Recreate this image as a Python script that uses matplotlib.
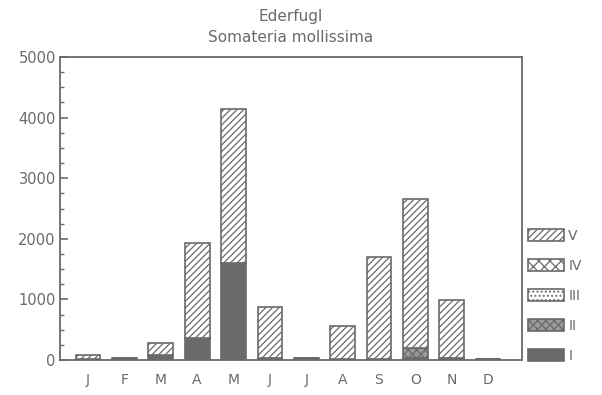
import matplotlib.pyplot as plt
import numpy as np
from matplotlib.patches import Patch
from matplotlib.ticker import MultipleLocator

plt.ioff()

# ---- data: monthly counts split into age classes I..V ----
months = ['J', 'F', 'M', 'A', 'M', 'J', 'J', 'A', 'S', 'O', 'N', 'D']
cls_I   = [0,  25,  90,  340, 1600, 30, 0,  20, 20,  40,  30, 10]
cls_II  = [0,  0,   0,   30,  0,    0,  0,  0,  0,   150, 0,  0]
cls_III = [20, 0,   0,   0,   0,    0,  40, 0,  0,   0,   0,  0]
cls_IV  = [0,  0,   0,   0,   0,    0,  0,  0,  0,   0,   0,  0]
cls_V   = [70, 0,   190, 1560, 2540, 840, 0, 540, 1680, 2460, 960, 0]

class_names = ['I', 'II', 'III', 'IV', 'V']
series = [cls_I, cls_II, cls_III, cls_IV, cls_V]

INK = '#6a6a6a'
plt.rcParams['hatch.color'] = INK
plt.rcParams['hatch.linewidth'] = 0.9
plt.rcParams['font.family'] = ['DejaVu Sans']

styles = {
    'I':   dict(facecolor=INK, hatch=None),
    'II':  dict(facecolor='#9a9a9a', hatch='xxxx'),
    'III': dict(facecolor='white', hatch='....'),
    'IV':  dict(facecolor='white', hatch='xxx'),
    'V':   dict(facecolor='white', hatch='/////'),
}

fig = plt.figure(figsize=(6.02, 3.95), dpi=100)
ax = fig.add_axes([0.0997, 0.0886, 0.7673, 0.7671])

x = np.arange(len(months))
bottom = np.zeros(len(months))
for name, vals in zip(class_names, series):
    vals = np.array(vals, dtype=float)
    st = styles[name]
    ax.bar(x, vals, width=0.68, bottom=bottom, facecolor=st['facecolor'],
           hatch=st['hatch'], edgecolor=INK, linewidth=1.2)
    bottom += vals

ax.set_xlim(-0.77, 11.93)
ax.set_ylim(0, 5000)
ax.set_xticks(x)
ax.set_xticklabels(months, fontsize=10, color=INK)
ax.tick_params(axis='x', length=0, pad=9)
ax.yaxis.set_major_locator(MultipleLocator(1000))
ax.yaxis.set_minor_locator(MultipleLocator(250))
ax.tick_params(axis='y', which='major', direction='in', length=6, width=1.2,
               color=INK, labelcolor=INK, labelsize=10.5, pad=3)
ax.tick_params(axis='y', which='minor', direction='in', length=3, width=1, color=INK)
for s in ax.spines.values():
    s.set_color(INK)
    s.set_linewidth(1.3)

ax.set_title('Ederfugl\nSomateria mollissima', fontsize=11, color=INK,
             linespacing=1.45, pad=11)

# legend on the right, top class first
handles = [Patch(facecolor=styles[n]['facecolor'], hatch=styles[n]['hatch'],
                 edgecolor=INK, linewidth=1.2, label=n) for n in class_names[::-1]]
fig.legend(handles=handles, loc='upper left', bbox_to_anchor=(0.868, 0.435),
           frameon=False, fontsize=10, labelcolor=INK, handlelength=2.6,
           handleheight=1.0, handletextpad=0.3, labelspacing=1.15,
           borderaxespad=0)

plt.savefig('out.png', dpi=100)
plt.close()
